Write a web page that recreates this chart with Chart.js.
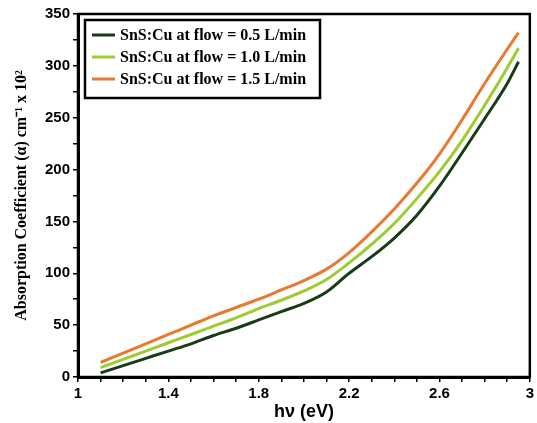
<!DOCTYPE html>
<html lang="en">
<head>
  <meta charset="UTF-8">
  <title>SnS:Cu Absorption Coefficient</title>
  <script src="https://cdn.jsdelivr.net/npm/chart.js"></script>
  <style>
    body {
      margin: 0;
      background: #fff;
    }

    #wrap {
      width: 537px;
      height: 423px;
    }
  </style>
</head>
<body>

  <div id="wrap"><canvas id="absChart"></canvas></div>

  <script>
    // photon energy (eV)
    const energy = [1.1, 1.2, 1.3, 1.4, 1.5, 1.6, 1.7, 1.8, 1.9, 2.0, 2.1, 2.2, 2.3, 2.4, 2.5, 2.6, 2.7, 2.8, 2.9, 2.95];

    // absorption coefficient (cm-1 x 10^2) for each flow rate
    const flow05 = [4, 11, 18, 25, 32, 40, 47, 55, 63, 71, 82, 100, 116, 134, 156, 184, 216, 249, 283, 304];
    const flow10 = [9, 17, 25, 33, 41, 49, 57, 66, 74, 83, 94, 110, 128, 148, 172, 198, 228, 262, 298, 317];
    const flow15 = [14, 23, 32, 41, 50, 59, 67, 75, 84, 93, 104, 120, 140, 162, 187, 215, 248, 283, 316, 332];

    const seriesNames = [
      "SnS:Cu at flow = 0.5 L/min",
      "SnS:Cu at flow = 1.0 L/min",
      "SnS:Cu at flow = 1.5 L/min"
    ];
    const seriesColors = ["#173d17", "#9bcc30", "#e8792f"];

    // labelled ticks
    const xLabelTicks = [1, 1.4, 1.8, 2.2, 2.6, 3];
    const yLabelTicks = [0, 50, 100, 150, 200, 250, 300, 350];

    function toPoints(ys) {
      return ys.map((y, i) => ({ x: energy[i], y: y }));
    }

    // box round the plot area
    const frame = {
      id: "frame",
      afterDraw(chart) {
        const { ctx, chartArea: a } = chart;
        ctx.save();
        ctx.strokeStyle = "#000";
        ctx.lineWidth = 2.5;
        ctx.strokeRect(a.left, a.top, a.right - a.left, a.bottom - a.top);
        ctx.restore();
      }
    };

    // boxed legend inside the top-left corner
    const boxLegend = {
      id: "boxLegend",
      afterDraw(chart) {
        const { ctx, chartArea: a } = chart;
        const x0 = a.left + 7, y0 = a.top + 6, w = 235, h = 78;
        ctx.save();
        ctx.fillStyle = "#fff";
        ctx.fillRect(x0, y0, w, h);
        ctx.strokeStyle = "#000";
        ctx.lineWidth = 2.5;
        ctx.strokeRect(x0, y0, w, h);
        ctx.font = "bold 16px 'Liberation Serif', 'Times New Roman', serif";
        ctx.textBaseline = "middle";
        chart.data.datasets.forEach((ds, i) => {
          const yy = y0 + 15 + i * 22;
          ctx.strokeStyle = ds.borderColor;
          ctx.lineWidth = 3;
          ctx.beginPath();
          ctx.moveTo(x0 + 7, yy);
          ctx.lineTo(x0 + 30, yy);
          ctx.stroke();
          ctx.fillStyle = "#000";
          ctx.fillText(ds.label, x0 + 35, yy + 1);
        });
        ctx.restore();
      }
    };

    const datasets = [flow05, flow10, flow15].map((ys, i) => ({
      label: seriesNames[i],
      data: toPoints(ys),
      borderColor: seriesColors[i],
      backgroundColor: seriesColors[i],
      borderWidth: 3,
      pointRadius: 0,
      fill: false,
      cubicInterpolationMode: "monotone"
    }));

    const tickFont = { family: "'Liberation Sans', Arial, sans-serif", size: 15, weight: "bold" };

    new Chart(document.getElementById("absChart"), {
      type: "line",
      data: { datasets: datasets },
      options: {
        responsive: true,
        maintainAspectRatio: false,
        animation: false,
        layout: { padding: { top: 14, right: 5, left: 0, bottom: 0 } },
        plugins: {
          legend: { display: false },
          tooltip: { enabled: false }
        },
        scales: {
          x: {
            type: "linear",
            min: 1,
            max: 3,
            afterFit: s => { s.height = 46; },
            ticks: {
              stepSize: 0.1,
              autoSkip: false,
              maxRotation: 0,
              padding: 3,
              color: "#000",
              font: tickFont,
              callback: v => xLabelTicks.some(t => Math.abs(t - v) < 1e-6) ? String(+v.toFixed(1)) : ""
            },
            grid: { drawOnChartArea: false, tickLength: 5, color: "#000", lineWidth: 1.5 },
            border: { color: "#000", width: 3 },
            title: {
              display: true,
              text: "hν (eV)",
              color: "#000",
              font: { family: "'Liberation Sans', Arial, sans-serif", size: 18, weight: "bold" },
              padding: { top: 0, bottom: 0 }
            }
          },
          y: {
            min: 0,
            max: 350,
            afterFit: s => { s.width = 78; },
            ticks: {
              stepSize: 25,
              autoSkip: false,
              padding: 3,
              color: "#000",
              font: tickFont,
              callback: v => yLabelTicks.includes(v) ? v : ""
            },
            grid: { drawOnChartArea: false, tickLength: 5, color: "#000", lineWidth: 1.5 },
            border: { color: "#000", width: 3 },
            title: {
              display: true,
              text: "Absorption Coefficient (α) cm⁻¹ x 10²",
              color: "#000",
              font: { family: "'Liberation Serif', 'Times New Roman', serif", size: 16, weight: "bold" },
              padding: { top: 12, bottom: 0 }
            }
          }
        }
      },
      plugins: [frame, boxLegend]
    });
  </script>

</body>
</html>
